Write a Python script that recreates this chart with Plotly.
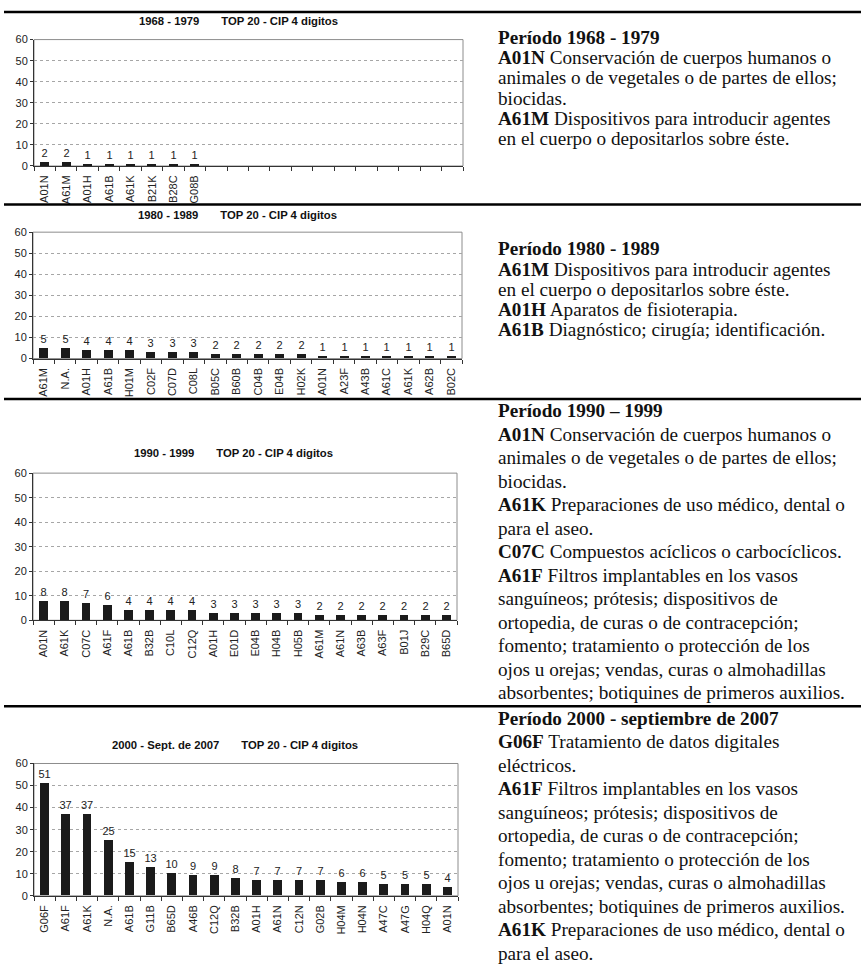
import plotly.graph_objects as go

W, H = 861, 968

# ---------------- data ----------------
titles = [
    "1968 - 1979",
    "1980 - 1989",
    "1990 - 1999",
    "2000 - Sept. de 2007",
]
title_suffix = "TOP 20 - CIP 4 digitos"

cats1 = ["A01N", "A61M", "A01H", "A61B", "A61K", "B21K", "B28C", "G08B"]
vals1 = [2, 2, 1, 1, 1, 1, 1, 1]

cats2 = ["A61M", "N.A.", "A01H", "A61B", "H01M", "C02F", "C07D", "C08L", "B05C", "B60B",
         "C04B", "E04B", "H02K", "A01N", "A23F", "A43B", "A61C", "A61K", "A62B", "B02C"]
vals2 = [5, 5, 4, 4, 4, 3, 3, 3, 2, 2, 2, 2, 2, 1, 1, 1, 1, 1, 1, 1]

cats3 = ["A01N", "A61K", "C07C", "A61F", "A61B", "B32B", "C10L", "C12Q", "A01H", "E01D",
         "E04B", "H04B", "H05B", "A61M", "A61N", "A63B", "A63F", "B01J", "B29C", "B65D"]
vals3 = [8, 8, 7, 6, 4, 4, 4, 4, 3, 3, 3, 3, 3, 2, 2, 2, 2, 2, 2, 2]

cats4 = ["G06F", "A61F", "A61K", "N.A.", "A61B", "G11B", "B65D", "A46B", "C12Q", "B32B",
         "A01H", "A61N", "C12N", "G02B", "H04M", "H04N", "A47C", "A47G", "H04Q", "A01N"]
vals4 = [51, 37, 37, 25, 15, 13, 10, 9, 9, 8, 7, 7, 7, 7, 6, 6, 5, 5, 5, 4]

y_ticks = [0, 10, 20, 30, 40, 50, 60]

text1 = [
    "<b>Período 1968 - 1979</b>",
    "<b>A01N</b> Conservación de cuerpos humanos o",
    "animales o de vegetales o de partes de ellos;",
    "biocidas.",
    "<b>A61M</b> Dispositivos para introducir agentes",
    "en el cuerpo o depositarlos sobre éste.",
]
text2 = [
    "<b>Período 1980 - 1989</b>",
    "<b>A61M</b> Dispositivos para introducir agentes",
    "en el cuerpo o depositarlos sobre éste.",
    "<b>A01H</b> Aparatos de fisioterapia.",
    "<b>A61B</b> Diagnóstico; cirugía; identificación.",
]
text3 = [
    "<b>Período 1990 – 1999</b>",
    "<b>A01N</b> Conservación de cuerpos humanos o",
    "animales o de vegetales o de partes de ellos;",
    "biocidas.",
    "<b>A61K</b> Preparaciones de uso médico, dental o",
    "para el aseo.",
    "<b>C07C</b> Compuestos acíclicos o carbocíclicos.",
    "<b>A61F</b> Filtros implantables en los vasos",
    "sanguíneos; prótesis; dispositivos de",
    "ortopedia, de curas o de contracepción;",
    "fomento; tratamiento o protección de los",
    "ojos u orejas; vendas, curas o almohadillas",
    "absorbentes; botiquines de primeros auxilios.",
]
text4 = [
    "<b>Período 2000 - septiembre de 2007</b>",
    "<b>G06F</b> Tratamiento de datos digitales",
    "eléctricos.",
    "<b>A61F</b> Filtros implantables en los vasos",
    "sanguíneos; prótesis; dispositivos de",
    "ortopedia, de curas o de contracepción;",
    "fomento; tratamiento o protección de los",
    "ojos u orejas; vendas, curas o almohadillas",
    "absorbentes; botiquines de primeros auxilios.",
    "<b>A61K</b> Preparaciones de uso médico, dental o",
    "para el aseo.",
]

# ---------------- layout geometry (pixels) ----------------
panels = [
    dict(cats=cats1, vals=vals1, x0=34, x1=463, yt=34, yb=162, ty=15, tx=238, text=text1, t0=31.8, ts=20.5),
    dict(cats=cats2, vals=vals2, x0=33, x1=462, yt=229, yb=357, ty=212, tx=237, text=text2, t0=246, ts=20.5),
    dict(cats=cats3, vals=vals3, x0=33, x1=457, yt=473, yb=622, ty=453, tx=233, text=text3, t0=410, ts=23.8),
    dict(cats=cats4, vals=vals4, x0=34, x1=458, yt=767, yb=901, ty=748, tx=235, text=text4, t0=721, ts=23.8),
]
sep_lines = [6, 201, 398, 709]

AX_FONT = "Liberation Sans, Arial, sans-serif"
TXT_FONT = "Liberation Serif, Times New Roman, serif"
GAP = "\u00a0" * 7

fig = go.Figure()
annotations = []
shapes = []
layout_axes = {}

for i, p in enumerate(panels):
    n = i + 1
    xa = "x" if n == 1 else f"x{n}"
    ya = "y" if n == 1 else f"y{n}"
    xkey = "xaxis" if n == 1 else f"xaxis{n}"
    ykey = "yaxis" if n == 1 else f"yaxis{n}"
    pos = list(range(len(p["cats"])))
    fig.add_trace(go.Bar(
        x=pos, y=p["vals"], xaxis=xa, yaxis=ya,
        width=0.42, marker=dict(color="#1b1b1b", line=dict(width=0)),
        text=p["vals"], textposition="outside", cliponaxis=False,
        constraintext="none",
        textfont=dict(family=AX_FONT, size=11, color="#222"),
        showlegend=False,
    ))
    layout_axes[xkey] = dict(
        domain=[p["x0"] / W, p["x1"] / W],
        anchor=ya, range=[-0.5, 19.5],
        tickmode="array", tickvals=pos, ticktext=p["cats"],
        tickangle=-90, ticks="outside", ticklen=4, tickcolor="rgba(0,0,0,0)",
        tickfont=dict(family=AX_FONT, size=11, color="#222"),
        minor=dict(tickmode="array", tickvals=[k - 0.5 for k in range(21)],
                   ticks="outside", ticklen=4, tickcolor="#333", tickwidth=1, showgrid=False),
        showline=True, linecolor="#333", linewidth=1,
        showgrid=False, zeroline=False, fixedrange=True,
    )
    layout_axes[ykey] = dict(
        domain=[1 - p["yb"] / H, 1 - p["yt"] / H],
        anchor=xa, range=[0, 60], tickmode="array", tickvals=y_ticks,
        ticks="outside", ticklen=3, tickcolor="#333",
        tickfont=dict(family=AX_FONT, size=11, color="#222"),
        showline=True, linecolor="#333", linewidth=1,
        showgrid=True, gridcolor="#a6a6a6", griddash="3px,3px", gridwidth=1,
        zeroline=False, fixedrange=True,
    )
    shapes.append(dict(type="rect", xref=f"{xa} domain", yref=f"{ya} domain",
                       x0=0, x1=1, y0=0, y1=1, line=dict(color="#8c8c8c", width=1),
                       layer="below"))
    annotations.append(dict(
        x=p["tx"] / W, y=1 - p["ty"] / H, xref="paper", yref="paper",
        xanchor="center", yanchor="middle", showarrow=False,
        text=f"<b>{titles[i]}{GAP}{title_suffix}</b>",
        font=dict(family=AX_FONT, size=11.3, color="#111"),
    ))
    for k, line in enumerate(p["text"]):
        yc = p["t0"] + k * p["ts"]
        annotations.append(dict(
            x=497 / W, y=1 - yc / H, xref="paper", yref="paper",
            xanchor="left", yanchor="middle", showarrow=False, align="left",
            borderpad=0,
            text=line, font=dict(family=TXT_FONT, size=19.2, color="#111"),
        ))

for yl in sep_lines:
    shapes.append(dict(type="line", xref="paper", yref="paper",
                       x0=4 / W, x1=1, y0=1 - yl / H, y1=1 - yl / H,
                       line=dict(color="#000", width=2.5)))

fig.update_layout(
    width=W, height=H, margin=dict(l=0, r=0, t=0, b=0),
    paper_bgcolor="white", plot_bgcolor="white",
    annotations=annotations, shapes=shapes, bargap=0,
    **layout_axes,
)

fig.write_html(
    "out.html",
    config={"displayModeBar": False},
    post_script="document.body.style.margin='0';document.body.style.overflow='hidden';",
)
